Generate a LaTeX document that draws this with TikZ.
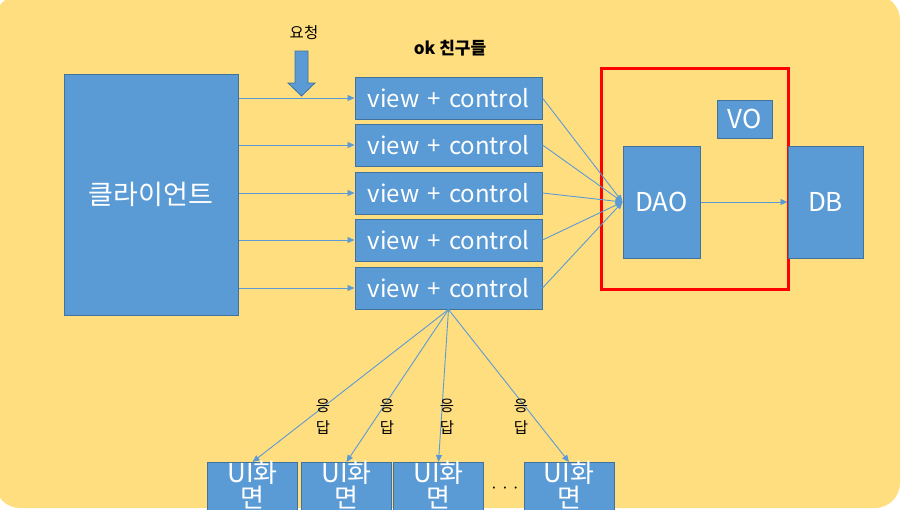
\documentclass[tikz,border=0pt]{standalone}
\usepackage{fontspec}
\setmainfont{Noto Sans CJK KR}
\usetikzlibrary{arrows.meta}
\definecolor{bgY}{HTML}{FFDE80}
\definecolor{boxF}{HTML}{5B9BD5}
\definecolor{boxD}{HTML}{41719C}
\definecolor{lineB}{HTML}{5B9BD5}
\tikzset{
  blk/.style={draw=boxD, fill=boxF, line width=1pt, text=white, inner sep=0pt},
  arr/.style={draw=lineB, line width=0.9pt, -{Triangle[length=7pt,width=6pt]}},
  vc/.style={blk, minimum width=187pt, minimum height=42pt, font=\fontsize{24}{26}\selectfont},
  bigtxt/.style={font=\fontsize{26}{30}\selectfont},
  uibox/.style={blk, minimum width=90pt, minimum height=60pt, anchor=north},
  uitxt/.style={text=white, align=center, inner sep=0pt, font=\fontsize{26}{25}\selectfont},
  resp/.style={text=black, align=center, inner sep=0pt, font=\fontsize{15.5}{21.5}\selectfont},
}
\begin{document}
\begin{tikzpicture}[x=1pt,y=-1pt]
\useasboundingbox (0,0) rectangle (902,509);
\clip (0,0) rectangle (902,509);
\fill[bgY, rounded corners=25pt] (-5,-5) rectangle (900,508);

% client
\node[blk, minimum width=174pt, minimum height=241pt, font=\fontsize{27}{30}\selectfont] (client) at (151,194.5) {클라이언트};

% view + control boxes
\node[vc] (vc1) at (448.5,98) {view\hspace{0.34em}+\hspace{0.34em}control};
\node[vc] (vc2) at (448.5,145) {view\hspace{0.34em}+\hspace{0.34em}control};
\node[vc] (vc3) at (448.5,193) {view\hspace{0.34em}+\hspace{0.34em}control};
\node[vc] (vc4) at (448.5,240) {view\hspace{0.34em}+\hspace{0.34em}control};
\node[vc] (vc5) at (448.5,288) {view\hspace{0.34em}+\hspace{0.34em}control};

% red frame
\draw[red, line width=3pt] (601,68) rectangle (788,289);

% DAO, VO, DB
\node[blk, bigtxt, minimum width=77pt, minimum height=112pt] (dao) at (661.5,202) {DAO};
\node[blk, bigtxt, minimum width=55pt, minimum height=38pt] (vo) at (744.5,119) {VO};
\node[blk, bigtxt, minimum width=75pt, minimum height=112pt] (db) at (825.5,202) {DB};

% labels top
\node[text=black, font=\fontsize{15.5}{18}\selectfont] (req) at (304,33) {요청};
\node[text=black, font=\fontsize{17}{20}\selectfont\bfseries] (ok) at (450,48) {ok 친구들};

% request arrow shape
\draw[boxD, fill=boxF, line width=0.8pt] (295,51) -- (308,51) -- (308,83) -- (315,83) -- (301.5,96) -- (288,83) -- (295,83) -- cycle;

% client -> vc
\foreach \i in {1,...,5}{
  \draw[arr] (client.east |- vc\i.west) -- (vc\i.west);
}
% vc -> DAO
\foreach \i in {1,...,5}{
  \draw[arr] (vc\i.east) -- (dao.west);
}
% DAO -> DB
\draw[arr] (dao.east) -- (db.west);

% UI boxes
\node[uibox] (ui1) at (252.5,462) {};
\node[uibox] (ui2) at (346.5,462) {};
\node[uibox] (ui3) at (438.5,462) {};
\node[uibox] (ui4) at (569,462) {};
\node[uitxt] (ui1t) at (252.5,484.5) {UI화\\면};
\node[uitxt] (ui2t) at (346.5,484.5) {UI화\\면};
\node[uitxt] (ui3t) at (438.5,484.5) {UI화\\면};
\node[uitxt] (ui4t) at (569,484.5) {UI화\\면};
\node[text=black, inner sep=0pt, font=\fontsize{15}{16}\selectfont] (dots) at (505,490) {·\,·\,·};

% vc5 -> UI
\draw[arr] (vc5.south) -- (ui1.north);
\draw[arr] (vc5.south) -- (ui2.north);
\draw[arr] (vc5.south) -- (ui3.north);
\draw[arr] (vc5.south) -- (ui4.north);

% response labels
\node[resp] (r1) at (323,416.5) {응\\답};
\node[resp] (r2) at (387,416.5) {응\\답};
\node[resp] (r3) at (447,416.5) {응\\답};
\node[resp] (r4) at (521,416.5) {응\\답};
\end{tikzpicture}
\end{document}
